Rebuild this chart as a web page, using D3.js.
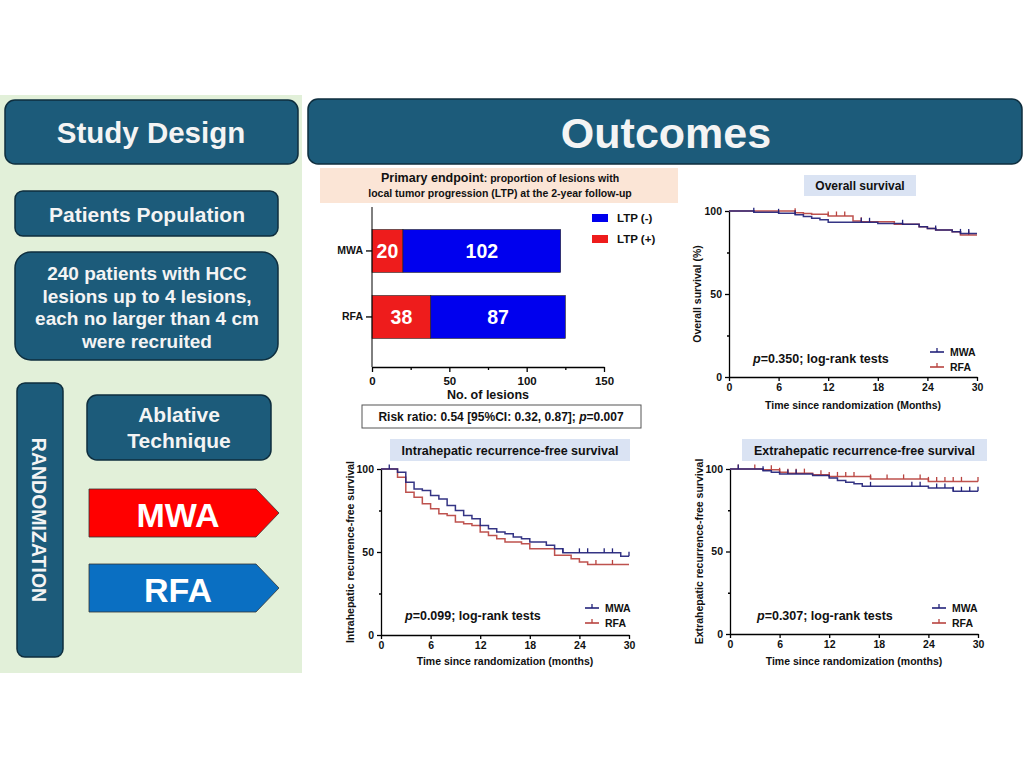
<!DOCTYPE html>
<html><head><meta charset="utf-8">
<script src="https://cdn.jsdelivr.net/npm/d3@7"></script>
<style>
body{margin:0;background:#fff;}
svg text{font-family:"Liberation Sans",Arial,sans-serif;font-weight:bold;}
</style></head>
<body><svg id="c" width="1024" height="768"></svg>
<script>
// ---------- DATA ----------
const barCategories = ["MWA", "RFA"];
const ltpPositive = [20, 38];
const ltpNegative = [102, 87];
const barTicks = [0, 50, 100, 150];
const barMinorTicks = [25, 75, 125];

const monthTicks = [0, 6, 12, 18, 24, 30];
const pctTicks = [0, 50, 100];
const pctMinorTicks = [25, 75];

// Overall survival (month, %)
const osMWA = [[0,100],[3,99.3],[6,98.6],[8,97.7],[9,96.7],[10,95.7],[11,94.7],[12,93.2],[18,92.5],[21,92],[23,90.5],[24,89.5],[25,88.5],[27,87.5],[28,86.5],[30,86.5]];
const osRFA = [[0,100],[8,99],[9,98.5],[10,98],[12,97],[15,94],[16,93.5],[20,92],[23,90.5],[24,89.5],[25,88.5],[27,87.5],[28,85.5],[30,85.5]];
const osMWACensor = [3,6,8,16,17,21,25,28,29];
const osRFACensor = [8,12,13,14,16,29];

// Intrahepatic recurrence-free survival
const ihMWA = [[0,100],[2,98],[3,92],[4,88],[5,87],[6,84],[7,82],[8,78],[9,75],[10,72],[11,70],[12,66],[13,64],[14,62],[15,61],[16,59],[17,58],[18,56],[20,54],[21,52],[22,49.5],[29,47.5],[30,47.5]];
const ihRFA = [[0,100],[2,95],[3,86],[4,83],[5,79],[6,76],[7,73],[8,72],[9,68],[10,67],[11,66],[12,62],[13,60],[14,58],[15,56],[17,55],[18,52],[21,48],[23,46],[24,44],[25,42.5],[30,42.5]];
const ihMWACensor = [1,22,24,25,27,28,30];
const ihRFACensor = [26,28];

// Extrahepatic recurrence-free survival
const ehMWA = [[0,100],[4,99],[5,98],[6,97],[10,96],[12,94.5],[13,93],[14,92],[15,91],[16,89.5],[24,88.5],[27,86.5],[30,86.5]];
const ehRFA = [[0,100],[4,99.5],[6,98],[7,97.5],[10,96.5],[12,95.5],[17,94],[24,92.5],[30,92.5]];
const ehMWACensor = [1,4,7,8,17,22,23,25,26,27,28,29,30];
const ehRFACensor = [1,3,5,6,7,8,9,11,12,13,14,15,17,19,21,23,24,25,26,27,28,30];

// ---------- DRAW ----------
const svg = d3.select("#c");
const BOX = "#1c5b7a", BOXSTROKE = "#0e2e3e", BOXTEXT = "#f4f4f4";
const MWA_COL = "#23237a", RFA_COL = "#b8433f";

// left panel
svg.append("rect").attr("x",0).attr("y",95).attr("width",302).attr("height",578).attr("fill","#e2f0d9");

function box(x,y,w,h,r){
  return svg.append("rect").attr("x",x).attr("y",y).attr("width",w).attr("height",h).attr("rx",r).attr("ry",r)
    .attr("fill",BOX).attr("stroke",BOXSTROKE).attr("stroke-width",1.5);
}
function label(x,y,txt,size,col,anchor){
  return svg.append("text").attr("x",x).attr("y",y).attr("text-anchor",anchor||"middle")
    .attr("font-size",size).attr("fill",col||BOXTEXT).text(txt);
}
box(5,100,293,64,10); label(151,143,"Study Design",29.5);
box(15,191,263,45,8); label(147,222,"Patients Population",21);
box(15,252,263,108,16);
["240 patients with  HCC","lesions up to 4 lesions,","each no larger than 4 cm","were recruited"].forEach((t,i)=>label(147,280+i*22.7,t,19));
box(17,383,46,274,8);
svg.append("text").attr("transform","translate(32,520) rotate(90)").attr("text-anchor","middle")
  .attr("font-size",19.5).attr("fill",BOXTEXT).text("RANDOMIZATION");
box(87,395,184,65,10); label(179,422,"Ablative",21); label(179,448,"Technique",21);

function arrow(y,col,txt){
  svg.append("path").attr("d",`M89,${y}H256L279,${y+24}L256,${y+48}H89Z`).attr("fill",col).attr("stroke","#333").attr("stroke-width",0.8);
  label(178,y+38,txt,34,"#fff");
}
arrow(489,"#ff0000","MWA");
arrow(564,"#0a6fc2","RFA");

// Outcomes header
box(308,99,714,65,10); label(666,148,"Outcomes",43);

// ---------- bar chart ----------
svg.append("rect").attr("x",320).attr("y",168).attr("width",358).attr("height",35).attr("fill","#fbe5d6");
const pt = svg.append("text").attr("x",500).attr("y",182).attr("text-anchor","middle").attr("fill","#111");
pt.append("tspan").attr("font-size",12.5).text("Primary endpoint");
pt.append("tspan").attr("font-size",10.5).text(": proportion of lesions with");
label(500,197,"local tumor progression (LTP) at the 2-year follow-up",10.5,"#111");

const bx = d3.scaleLinear().domain([0,150]).range([372,604]);
const by = d3.scaleBand().domain(barCategories).range([209.7,358.2]).paddingInner(0.35).paddingOuter(0.3);
const bg = svg.append("g");
barCategories.forEach((c,i)=>{
  const pos = ltpPositive[i], neg = ltpNegative[i];
  bg.append("rect").attr("x",bx(0)).attr("y",by(c)).attr("width",bx(pos)-bx(0)).attr("height",by.bandwidth())
    .attr("fill","#ee1c1c").attr("stroke","#222").attr("stroke-width",0.6);
  bg.append("rect").attr("x",bx(pos)).attr("y",by(c)).attr("width",bx(pos+neg)-bx(pos)).attr("height",by.bandwidth())
    .attr("fill","#0000ee").attr("stroke","#222").attr("stroke-width",0.6);
  bg.append("text").attr("x",(bx(0)+bx(pos))/2).attr("y",by(c)+by.bandwidth()/2+7).attr("text-anchor","middle")
    .attr("font-size",19.5).attr("fill","#fff").text(pos);
  bg.append("text").attr("x",(bx(pos)+bx(pos+neg))/2).attr("y",by(c)+by.bandwidth()/2+7).attr("text-anchor","middle")
    .attr("font-size",19.5).attr("fill","#fff").text(neg);
});
const bxAxis = svg.append("g").attr("transform","translate(0,367)")
  .call(d3.axisBottom(bx).tickValues(barTicks).tickSize(5).tickSizeOuter(0));
bxAxis.selectAll("text").attr("font-size",11.5).attr("fill","#111").attr("dy","0.9em");
svg.append("g").attr("transform","translate(0,367)")
  .call(d3.axisBottom(bx).tickValues(barMinorTicks).tickSize(3).tickFormat("")).select(".domain").remove();
const byAxis = svg.append("g").attr("transform",`translate(${bx(0)},0)`)
  .call(d3.axisLeft(by).tickSize(6));
byAxis.select(".domain").remove();
byAxis.selectAll("text").attr("font-size",10.5).attr("fill","#111");
svg.append("line").attr("x1",bx(0)).attr("x2",bx(0)).attr("y1",207).attr("y2",367).attr("stroke","#000");
svg.selectAll(".tick line,.domain").attr("stroke","#000").attr("stroke-width",1.3);
label(488,399,"No. of lesions",12.5,"#111");
svg.append("rect").attr("x",362).attr("y",405).attr("width",279).attr("height",23).attr("fill","#fff").attr("stroke","#555").attr("stroke-width",1);
const rr = svg.append("text").attr("x",501).attr("y",421).attr("text-anchor","middle").attr("font-size",12).attr("fill","#111");
rr.append("tspan").text("Risk ratio: 0.54 [95%CI: 0.32, 0.87]; ");
rr.append("tspan").attr("font-style","italic").text("p");
rr.append("tspan").text("=0.007");
// legend
svg.append("rect").attr("x",592).attr("y",214).attr("width",16).attr("height",8).attr("fill","#0000ee");
label(617,222,"LTP (-)",11.5,"#111","start");
svg.append("rect").attr("x",592).attr("y",235).attr("width",16).attr("height",8).attr("fill","#ee1c1c");
label(617,243,"LTP (+)",11.5,"#111","start");

// ---------- KM charts ----------
function stepValue(curve,t){
  let v = curve[0][1];
  for (const p of curve) { if (p[0] <= t) v = p[1]; }
  return v;
}
function km(o){
  const x = d3.scaleLinear().domain([0,30]).range([o.x0,o.x1]);
  const y = d3.scaleLinear().domain([0,100]).range([o.y0,o.y100]);
  svg.append("rect").attr("x",o.tb[0]).attr("y",o.tb[1]).attr("width",o.tb[2]).attr("height",o.tb[3]).attr("fill","#dae3f3");
  label(o.tb[0]+o.tb[2]/2,o.tb[1]+o.tb[3]/2+4.5,o.title,o.tsize,"#111");
  const xa = svg.append("g").attr("transform",`translate(0,${o.y0})`).call(d3.axisBottom(x).tickValues(monthTicks).tickSize(4).tickSizeOuter(0));
  xa.selectAll("text").attr("font-size",10.5).attr("fill","#111");
  const ya = svg.append("g").attr("transform",`translate(${o.x0},0)`).call(d3.axisLeft(y).tickValues(pctTicks).tickSize(4).tickSizeOuter(0));
  ya.selectAll("text").attr("font-size",10.5).attr("fill","#111");
  svg.append("g").attr("transform",`translate(${o.x0},0)`).call(d3.axisLeft(y).tickValues(pctMinorTicks).tickSize(2).tickFormat("")).select(".domain").remove();
  svg.selectAll(".tick line,.domain").attr("stroke","#000").attr("stroke-width",1.3);
  label((o.x0+o.x1)/2,o.xlabY,o.xlabel,10.5,"#111");
  svg.append("text").attr("transform",`translate(${o.ylabX},${(o.y0+o.y100)/2}) rotate(-90)`).attr("text-anchor","middle")
    .attr("font-size",o.ylsize).attr("fill","#111").text(o.ylabel);
  const line = d3.line().x(d=>x(d[0])).y(d=>y(d[1])).curve(d3.curveStepAfter);
  [[o.rfa,o.rfaC,RFA_COL],[o.mwa,o.mwaC,MWA_COL]].forEach(([c,cens,col])=>{
    svg.append("path").attr("d",line(c)).attr("fill","none").attr("stroke",col).attr("stroke-width",1.5).attr("opacity",0.92);
    svg.append("g").selectAll("line").data(cens).join("line")
      .attr("x1",d=>x(d)).attr("x2",d=>x(d)).attr("y1",d=>y(stepValue(c,d))).attr("y2",d=>y(stepValue(c,d))-4.5)
      .attr("stroke",col).attr("stroke-width",1.3);
  });
  const pp = svg.append("text").attr("x",o.px).attr("y",o.py).attr("font-size",12.5).attr("fill","#111");
  pp.append("tspan").attr("font-style","italic").text("p");
  pp.append("tspan").text(o.ptext);
  [[MWA_COL,"MWA",0],[RFA_COL,"RFA",15]].forEach(([col,t,dy])=>{
    const ly = o.ly + dy;
    svg.append("line").attr("x1",o.lx).attr("x2",o.lx+14).attr("y1",ly).attr("y2",ly).attr("stroke",col).attr("stroke-width",1.6);
    svg.append("line").attr("x1",o.lx+7).attr("x2",o.lx+7).attr("y1",ly).attr("y2",ly-4).attr("stroke",col).attr("stroke-width",1.3);
    label(o.lx+20,ly+4,t,10.5,"#111","start");
  });
}
km({x0:729,x1:977,y0:377,y100:211,tb:[804,175,112,21],title:"Overall survival",tsize:12,
  xlabel:"Time since randomization (Months)",xlabY:409,ylabel:"Overall survival (%)",ylabX:701,ylsize:10.5,
  mwa:osMWA,rfa:osRFA,mwaC:osMWACensor,rfaC:osRFACensor,px:753,py:363,ptext:"=0.350; log-rank tests",lx:930,ly:352});
km({x0:381,x1:629,y0:635,y100:469,tb:[390,439,240,22],title:"Intrahepatic recurrence-free survival",tsize:12.5,
  xlabel:"Time since randomization (months)",xlabY:665,ylabel:"Intrahepatic recurrence-free survival",ylabX:354,ylsize:10.5,
  mwa:ihMWA,rfa:ihRFA,mwaC:ihMWACensor,rfaC:ihRFACensor,px:405,py:620,ptext:"=0.099; log-rank tests",lx:585,ly:608});
km({x0:730,x1:978,y0:634,y100:469,tb:[742,439,245,22],title:"Extrahepatic recurrence-free survival",tsize:12.5,
  xlabel:"Time since randomization (months)",xlabY:665,ylabel:"Extrahepatic recurrence-free survival",ylabX:703,ylsize:10.5,
  mwa:ehMWA,rfa:ehRFA,mwaC:ehMWACensor,rfaC:ehRFACensor,px:757,py:620,ptext:"=0.307; log-rank tests",lx:932,ly:608});
</script></body></html>
